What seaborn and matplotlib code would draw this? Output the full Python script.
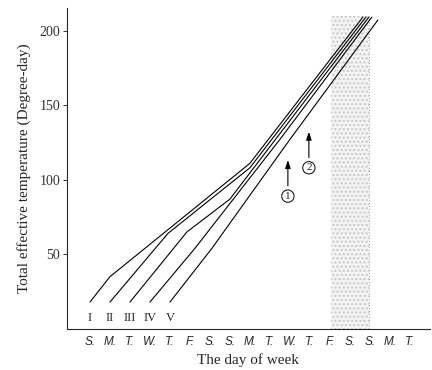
import pandas as pd
import matplotlib
matplotlib.use("Agg")
import matplotlib.pyplot as plt
import seaborn as sns

# day-of-week tick labels (three weeks, starting on Sunday)
day_labels = ['S.', 'M.', 'T.', 'W.', 'T.', 'F.', 'S.',
              'S.', 'M.', 'T.', 'W.', 'T.', 'F.', 'S.',
              'S.', 'M.', 'T.']

# accumulated effective temperature curves, one per start day
series_names = ['I', 'II', 'III', 'IV', 'V']
line_I_day = [0, 1, 8, 13.65]
line_I_val = [18, 35, 111, 209]
line_II_day = [1, 3.9, 8, 13.8]
line_II_val = [18, 64, 108, 209]
line_III_day = [2, 4.85, 7, 13.95]
line_III_val = [18, 65, 87, 209]
line_IV_day = [3, 5.25, 9.5, 14.1]
line_IV_val = [18, 54, 127, 209]
line_V_day = [4, 6.1, 10, 14.4]
line_V_val = [18, 54, 127, 207]

# shaded period and the two marked events
shade_days = (12.05, 13.95)
shade_top = 210
event_days = [9.9, 10.95]
event_head = [115, 134]
event_tail = [94, 113]
event_text = ['1', '2']

all_days = [line_I_day, line_II_day, line_III_day, line_IV_day, line_V_day]
all_vals = [line_I_val, line_II_val, line_III_val, line_IV_val, line_V_val]
rows = []
for name, ds, vs in zip(series_names, all_days, all_vals):
    for d, v in zip(ds, vs):
        rows.append({'series': name, 'day': d, 'value': v})
df = pd.DataFrame(rows)

sns.set_style('ticks')
plt.rcParams['font.family'] = ['Liberation Serif', 'DejaVu Serif']

fig = plt.figure(figsize=(4.32, 3.70), dpi=100)
ax = fig.add_axes([0.155, 0.111, 0.84, 0.867])

# stippled band
ax.axvspan(shade_days[0], shade_days[1], ymin=0, ymax=shade_top / 215,
           facecolor='#f4f4f4', edgecolor='#c8c8c8', hatch='....', linewidth=0)
ax.plot([shade_days[1], shade_days[1]], [0, shade_top], color='#999999',
        lw=0.7, ls=(0, (1, 2)))

sns.lineplot(data=df, x='day', y='value', units='series', estimator=None,
             sort=False, color='black', lw=0.8, ax=ax)

# start-day markers
for i, name in enumerate(series_names):
    ax.text(i, 7, name, ha='center', va='center', fontsize=9)

# event arrows with circled numbers
for d, h, t, s in zip(event_days, event_head, event_tail, event_text):
    ax.annotate('', xy=(d, h), xytext=(d, t),
                arrowprops=dict(arrowstyle='-|>,head_length=0.6,head_width=0.2',
                                color='black', lw=0.8, mutation_scale=8))
    ax.text(d, t - 5, s, ha='center', va='center', fontsize=8,
            bbox=dict(boxstyle='circle,pad=0.15', fc='white', ec='black', lw=0.7))

ax.set_xlim(-1.15, 17)
ax.set_ylim(0, 215)
ax.set_xticks(range(len(day_labels)))
ax.set_xticklabels(day_labels, family='Liberation Sans', style='italic', fontsize=8.5)
ax.set_yticks([50, 100, 150, 200])
ax.tick_params(axis='x', length=0, pad=5)
ax.tick_params(axis='y', length=3, width=0.7, labelsize=10, pad=2, colors='#333333')
ax.set_xlabel('The day of week', fontsize=11, labelpad=4)
ax.set_ylabel('Total effective temperature (Degree-day)', fontsize=11, labelpad=6)
for sp in ['top', 'right']:
    ax.spines[sp].set_visible(False)
ax.spines['left'].set_linewidth(0.8)
ax.spines['bottom'].set_linewidth(0.8)

fig.savefig('out.png', dpi=100)
